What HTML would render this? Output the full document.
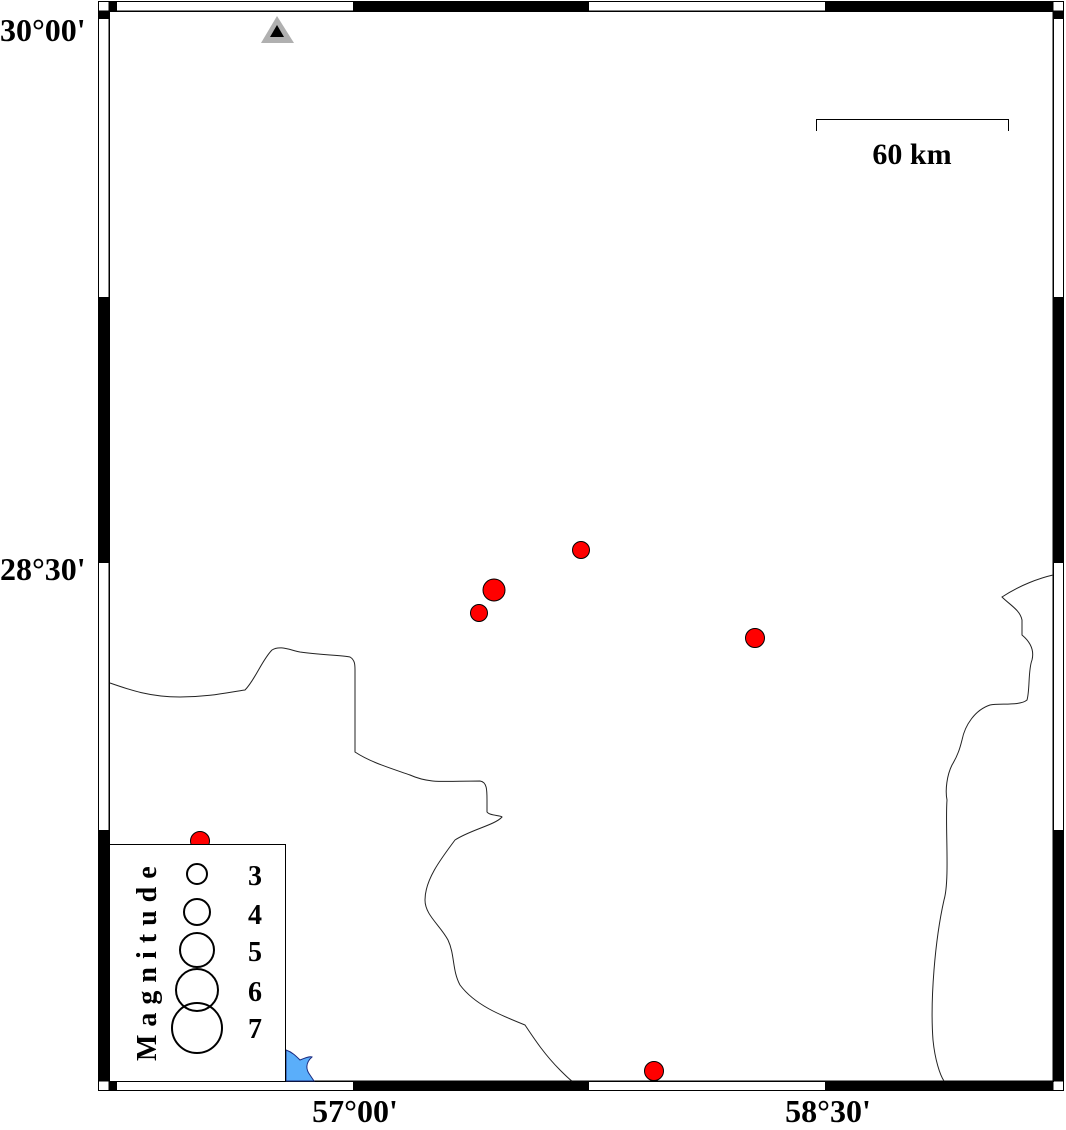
<!DOCTYPE html>
<html><head><meta charset="utf-8"><style>
html,body{margin:0;padding:0;background:#fff;}
svg{display:block;}
text{font-family:"Liberation Serif",serif;font-weight:bold;}
</style></head><body>
<svg width="1066" height="1130" viewBox="0 0 1066 1130" xmlns="http://www.w3.org/2000/svg">
<rect x="0" y="0" width="1066" height="1130" fill="#fff"/>
<rect x="98.5" y="1.5" width="965" height="1089" fill="#fff" stroke="#000" stroke-width="1"/>
<g fill="#000">
<rect x="109" y="2" width="8" height="9"/>
<rect x="353" y="2" width="236" height="9"/>
<rect x="825" y="2" width="228" height="9"/>
<rect x="109" y="1081" width="8" height="9"/>
<rect x="353" y="1081" width="236" height="9"/>
<rect x="825" y="1081" width="228" height="9"/>
<rect x="99" y="11" width="10" height="8"/>
<rect x="99" y="297" width="10" height="266"/>
<rect x="99" y="830" width="10" height="251"/>
<rect x="1053" y="11" width="10" height="8"/>
<rect x="1053" y="297" width="10" height="266"/>
<rect x="1053" y="830" width="10" height="251"/>
</g>
<rect x="109.5" y="11.5" width="944" height="1070" fill="none" stroke="#000" stroke-width="1"/>
<line x1="98" y1="11" x2="1063" y2="11" stroke="#000"/>
<line x1="98" y1="1081" x2="1063" y2="1081" stroke="#000"/>
<line x1="109" y1="1" x2="109" y2="1090" stroke="#000"/>
<line x1="1053" y1="1" x2="1053" y2="1090" stroke="#000"/>

<g fill="none" stroke="#222" stroke-width="1">
<path d="M110 683 C130 690 150 697 180 697 C210 697 230 692 245 690 C255 680 262 660 272 650 C280 645 290 650 300 652 C320 655 340 655 350 657 C355 660 355 665 355 670 L355 752 C370 762 390 768 410 775 C430 784 445 781 480 781 C487 782 487 790 487 800 L487 812 C490 816 500 815 502 817 C495 825 470 830 455 840 C440 860 425 880 425 900 C425 915 440 925 448 940 C455 955 452 970 460 985 C475 1005 500 1015 525 1025 C535 1040 545 1055 560 1070 C565 1075 570 1080 572 1081"/>
<path d="M1053 575 C1040 578 1020 585 1002 597 C1010 605 1020 610 1022 620 L1022 635 C1028 640 1035 648 1032 660 C1028 670 1030 690 1027 700 C1020 706 1000 703 990 705 C975 710 965 725 962 740 C960 748 958 755 952 765 C947 775 945 790 947 800 C945 825 950 880 944 900 C935 940 930 1000 933 1040 C935 1060 940 1075 944 1081"/>
</g>

<path d="M286 1050 C292 1052 296 1056 300 1060 C305 1058 310 1056 312 1057 C305 1063 306 1070 310 1075 L314 1081 L286 1081 Z" fill="#5aaefa" stroke="#1a2a80" stroke-width="1"/>

<polygon points="277,16 261,43 294,43" fill="#b0b0b0"/>
<polygon points="277,25 270,37 284,37" fill="#000"/>

<path d="M816.5 131 L816.5 119.5 L1008.5 119.5 L1008.5 131" fill="none" stroke="#000"/>
<text x="912" y="164" font-size="30" text-anchor="middle">60 km</text>

<g fill="#f00" stroke="#000" stroke-width="1">
<circle cx="581" cy="550" r="8.5"/>
<circle cx="494" cy="590" r="11"/>
<circle cx="479" cy="613" r="8.5"/>
<circle cx="755" cy="638" r="9.5"/>
<circle cx="654" cy="1071" r="9.5"/>
<circle cx="200" cy="841" r="9.5"/>
</g>

<rect x="109.5" y="844.5" width="176" height="237" fill="#fff" stroke="#000" stroke-width="1"/>
<g fill="none" stroke="#000" stroke-width="2">
<circle cx="197" cy="874" r="10"/>
<circle cx="197" cy="912" r="13"/>
<circle cx="197" cy="950" r="17"/>
<circle cx="197" cy="990" r="21"/>
<circle cx="197" cy="1028" r="25"/>
</g>
<g font-size="28">
<text x="248" y="885">3</text>
<text x="248" y="924">4</text>
<text x="248" y="961">5</text>
<text x="248" y="1001">6</text>
<text x="248" y="1038">7</text>
</g>
<text transform="translate(156,1061) rotate(-90)" font-size="28" letter-spacing="8">Magnitude</text>

<g font-size="32">
<text x="0" y="41">30°00'</text>
<text x="0" y="580">28°30'</text>
<text x="355" y="1122" text-anchor="middle">57°00'</text>
<text x="828" y="1122" text-anchor="middle">58°30'</text>
</g>
</svg>
</body></html>
